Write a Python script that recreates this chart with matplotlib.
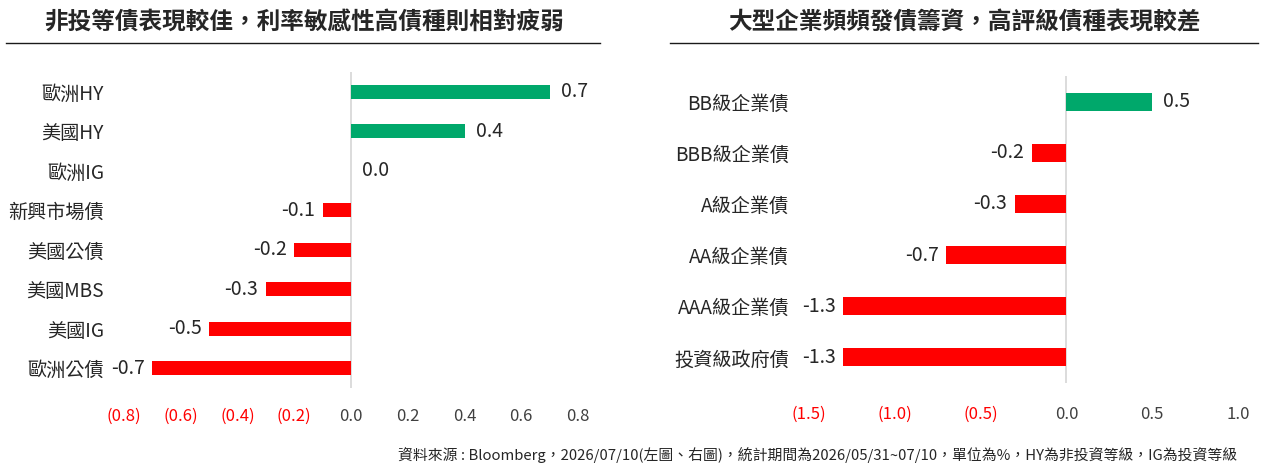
import matplotlib
matplotlib.use('Agg')
import matplotlib.pyplot as plt
from matplotlib.lines import Line2D

plt.rcParams['font.family'] = ['Noto Sans CJK TC', 'DejaVu Sans']

left_title = "非投等債表現較佳，利率敏感性高債種則相對疲弱"
left_cats = ["歐洲HY", "美國HY", "歐洲IG", "新興市場債", "美國公債", "美國MBS", "美國IG", "歐洲公債"]
left_vals = [0.7, 0.4, 0.0, -0.1, -0.2, -0.3, -0.5, -0.7]
left_ticks = [-0.8, -0.6, -0.4, -0.2, 0.0, 0.2, 0.4, 0.6, 0.8]
left_ticklabels = ["(0.8)", "(0.6)", "(0.4)", "(0.2)", "0.0", "0.2", "0.4", "0.6", "0.8"]

right_title = "大型企業頻頻發債籌資，高評級債種表現較差"
right_cats = ["BB級企業債", "BBB級企業債", "A級企業債", "AA級企業債", "AAA級企業債", "投資級政府債"]
right_vals = [0.5, -0.2, -0.3, -0.7, -1.3, -1.3]
right_ticks = [-1.5, -1.0, -0.5, 0.0, 0.5, 1.0]
right_ticklabels = ["(1.5)", "(1.0)", "(0.5)", "0.0", "0.5", "1.0"]

footer = "資料來源 : Bloomberg，2026/07/10(左圖、右圖)，統計期間為2026/05/31~07/10，單位為%，HY為非投資等級，IG為投資等級"

GREEN = "#00A86B"
RED = "#FF0000"
DARK = "#262626"
TICK = "#404040"

W, H = 1261, 466
fig = plt.figure(figsize=(W / 100, H / 100), dpi=100)


def px_axes(x0, x1, y0, y1):
    return fig.add_axes([x0 / W, 1 - y1 / H, (x1 - x0) / W, (y1 - y0) / H])


def draw(ax, cats, vals, ticks, ticklabels, tick_pad):
    n = len(cats)
    ys = list(range(n))
    colors = [GREEN if v > 0 else RED for v in vals]
    ax.axvline(0, color="#D9D9D9", lw=1.3, zorder=1)
    ax.barh(ys, vals, height=0.35, color=colors, zorder=2)
    ax.set_xlim(ticks[0], ticks[-1])
    ax.set_ylim(n - 0.5, -0.5)
    for s in ax.spines.values():
        s.set_visible(False)
    ax.set_yticks(ys, cats)
    ax.set_xticks(ticks, ticklabels)
    ax.tick_params(axis="y", left=False, pad=11, labelsize=13.8, labelcolor=DARK)
    ax.tick_params(axis="x", bottom=False, pad=tick_pad, labelsize=12)
    for t, lab in zip(ticks, ax.get_xticklabels()):
        lab.set_color(RED if t < 0 else TICK)
    for y, v in zip(ys, vals):
        if v >= 0:
            ax.annotate(f"{v:.1f}", (v, y), xytext=(8, 0), textcoords="offset points",
                        ha="left", va="center", fontsize=14, color=DARK, clip_on=False)
        else:
            ax.annotate(f"{v:.1f}", (v, y), xytext=(-5.5, 0), textcoords="offset points",
                        ha="right", va="center", fontsize=14, color=DARK, clip_on=False)


axL = px_axes(124, 578, 72, 388)
draw(axL, left_cats, left_vals, left_ticks, left_ticklabels, 11)

axR = px_axes(809, 1238, 76, 383)
draw(axR, right_cats, right_vals, right_ticks, right_ticklabels, 13)

# titles and rules
fig.text(304 / W, 1 - 23 / H, left_title, ha="center", va="center",
         fontsize=17, fontweight="bold", color=DARK)
fig.text(964 / W, 1 - 23 / H, right_title, ha="center", va="center",
         fontsize=17, fontweight="bold", color=DARK)
fig.add_artist(Line2D([6 / W, 600 / W], [1 - 43 / H, 1 - 43 / H], color="#1a1a1a", lw=1.0))
fig.add_artist(Line2D([670 / W, 1258 / W], [1 - 43 / H, 1 - 43 / H], color="#1a1a1a", lw=1.0))

fig.text(1237 / W, 1 - 455 / H, footer, ha="right", va="center", fontsize=10.7, color=DARK)

fig.savefig("out.png", dpi=100)
